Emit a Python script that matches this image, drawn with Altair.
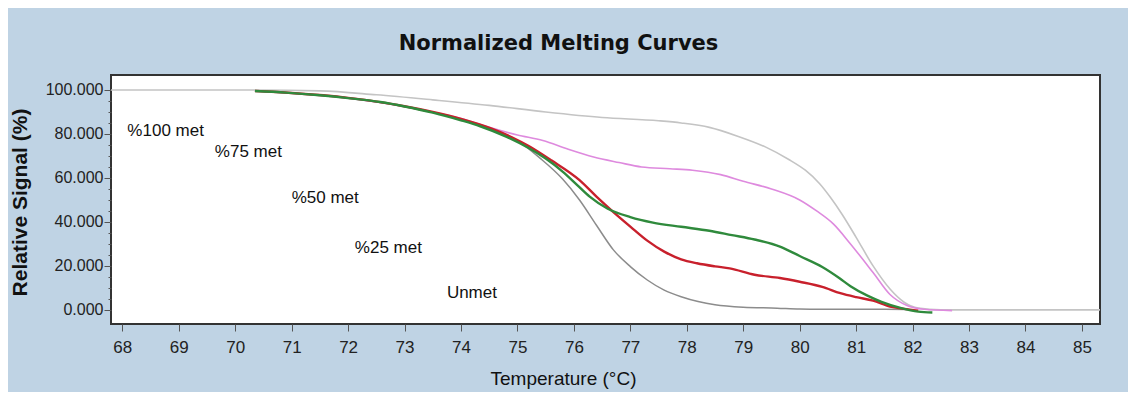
import altair as alt
import pandas as pd

# ---- data ----
t_100 = [67.8, 70.0, 71.5, 72.5, 73.5, 74.5, 75.5, 76.5, 77.5, 77.9, 78.4, 78.9, 79.4, 79.8, 80.1, 80.35, 80.55, 80.75, 81.0, 81.3, 81.6, 81.85, 82.1, 82.5, 83.5, 85.32]
v_100 = [100, 100, 99.6, 97.8, 95.5, 93, 90, 87.5, 86, 85, 83, 79, 74, 68.5, 63.5, 57.5, 51, 43.5, 33, 20, 9.5, 3.5, 0.8, 0, 0, 0]

t_75 = [70.35, 71.0, 72.0, 73.0, 74.0, 74.5, 75.0, 75.45, 75.9, 76.35, 76.8, 77.2, 77.7, 78.1, 78.6, 79.0, 79.5, 80.0, 80.3, 80.6, 80.9, 81.3, 81.6, 81.9, 82.2, 82.7]
v_75 = [99.5, 98.5, 96.3, 92.5, 87, 83, 79.5, 77, 73, 69.5, 67, 65, 64.2, 63.5, 61.5, 58.5, 55, 50, 45, 39, 30, 17, 7, 2, 0.3, -0.3]

t_50 = [70.35, 70.9, 71.5, 72.0, 72.57, 73.0, 73.5, 74.0, 74.34, 74.8, 75.2, 75.5, 75.8, 76.05, 76.28, 76.6, 77.0, 77.4, 77.9, 78.4, 78.8, 79.2, 79.65, 80.0, 80.4, 80.7, 80.9, 81.2, 81.45, 81.8, 82.1, 82.35]
v_50 = [99.5, 98.8, 97.6, 96.3, 94.5, 92.5, 89.7, 86.2, 83.5, 78.8, 73.6, 68.8, 62.9, 57, 51.5, 46, 42.2, 39.7, 37.8, 36, 34, 32, 28.8, 24.5, 19.5, 14.5, 10.8, 6.5, 3.7, 0.8, -0.8, -1.2]

t_25 = [70.35, 71.0, 72.0, 73.0, 73.5, 74.0, 74.52, 74.9, 75.2, 75.6, 76.1, 76.4, 76.7, 77.0, 77.3, 77.6, 77.9, 78.18, 78.5, 78.76, 79.2, 79.65, 80.0, 80.4, 80.72, 81.0, 81.3, 81.6, 81.85, 82.1]
v_25 = [99.5, 98.6, 96.4, 92.6, 90, 86.8, 82.6, 78.5, 74.5, 68, 59, 51.5, 44.5, 37.9, 31.5, 26.5, 23, 21.2, 19.8, 18.9, 16, 14.5, 12.8, 10.5, 7.6, 5.8, 4.2, 1.5, 0.5, -0.3]

t_un = [70.35, 71.0, 72.0, 73.0, 74.0, 74.5, 75.0, 75.4, 75.8, 76.1, 76.4, 76.7, 77.0, 77.3, 77.6, 77.9, 78.2, 78.5, 79.0, 79.6, 80.0, 80.8, 81.5, 81.9]
v_un = [99.5, 98.6, 96.4, 92.5, 86.5, 82.5, 77, 69, 59.5, 50, 38.5, 27.3, 19.7, 13.6, 9, 6, 3.8, 2.3, 1.2, 0.8, 0.4, 0.3, 0.3, 0.2]

labels = ["%100 met", "%75 met", "%50 met", "%25 met", "Unmet"]
label_t = [68.09, 69.64, 71.0, 72.12, 73.75]
label_v = [79.1, 69.5, 48.6, 25.9, 5.5]

x_ticks = list(range(68, 86))
y_ticks = list(range(0, 101, 5))

SANS = "Liberation Sans, Arial, sans-serif"

x_scale = alt.Scale(domain=[67.8, 85.32], nice=False, zero=False)
y_scale = alt.Scale(domain=[-6.4, 106.8], nice=False, zero=False)

x_axis = alt.Axis(
    values=x_ticks, format="d", title="Temperature (°C)", grid=False, domain=False,
    labelFont=SANS, labelFontSize=17, labelColor="#222222", labelPadding=8,
    tickSize=7, tickColor="#555555", tickWidth=1,
    titleFont=SANS, titleFontSize=19, titleFontWeight="normal", titleColor="#111111",
    titleX=452, titleY=60, titleBaseline="alphabetic", titleAlign="center",
)
y_axis = alt.Axis(
    values=y_ticks, grid=False, domain=False, title="Relative Signal (%)",
    labelExpr="datum.value % 20 === 0 ? format(datum.value, '.3f') : ''",
    labelFont=SANS, labelFontSize=16, labelColor="#222222", labelPadding=1,
    tickSize={"condition": {"test": "datum.value % 20 === 0", "value": 7}, "value": 3},
    tickColor="#555555",
    titleFont=SANS, titleFontSize=21, titleFontWeight="bold",
    titleColor="#111111", titleAngle=270, titleX=-91, titleY=127,
    titleBaseline="middle", titleAlign="center",
)


def curve(t, v, color, width):
    df = pd.DataFrame({"t": t, "v": v, "i": range(len(t))})
    return alt.Chart(df).mark_line(
        color=color, strokeWidth=width, interpolate="monotone", clip=True
    ).encode(
        x=alt.X("t:Q", scale=x_scale, axis=x_axis),
        y=alt.Y("v:Q", scale=y_scale, axis=y_axis),
        order="i:Q",
    )


lines = [
    curve(t_100, v_100, "#c4c4c4", 1.6),
    curve(t_un, v_un, "#8c8c8c", 1.5),
    curve(t_75, v_75, "#de8ade", 1.6),
    curve(t_25, v_25, "#c8202c", 2.4),
    curve(t_50, v_50, "#2f8a3c", 2.4),
]

lab_df = pd.DataFrame({"label": labels, "t": label_t, "v": label_v})
texts = alt.Chart(lab_df).mark_text(
    align="left", baseline="alphabetic", font=SANS, fontSize=17, color="#111111"
).encode(
    x=alt.X("t:Q", scale=x_scale, axis=x_axis),
    y=alt.Y("v:Q", scale=y_scale, axis=y_axis),
    text="label:N",
)

chart = alt.layer(*lines, texts).properties(
    width=989,
    height=249,
    autosize=alt.AutoSizeParams(type="none"),
    padding={"left": 103, "top": 67, "right": 28, "bottom": 68},
    background="#bfd3e4",
    title=alt.TitleParams(
        "Normalized Melting Curves", anchor="middle", dx=-47, dy=24, offset=28,
        baseline="alphabetic", font="DejaVu Sans, sans-serif", fontSize=21,
        fontWeight="bold", color="#111111",
    ),
).configure_view(fill="white", stroke="#333333", strokeWidth=2)

chart.save("out.html", embed_options={"renderer": "svg", "actions": False})
